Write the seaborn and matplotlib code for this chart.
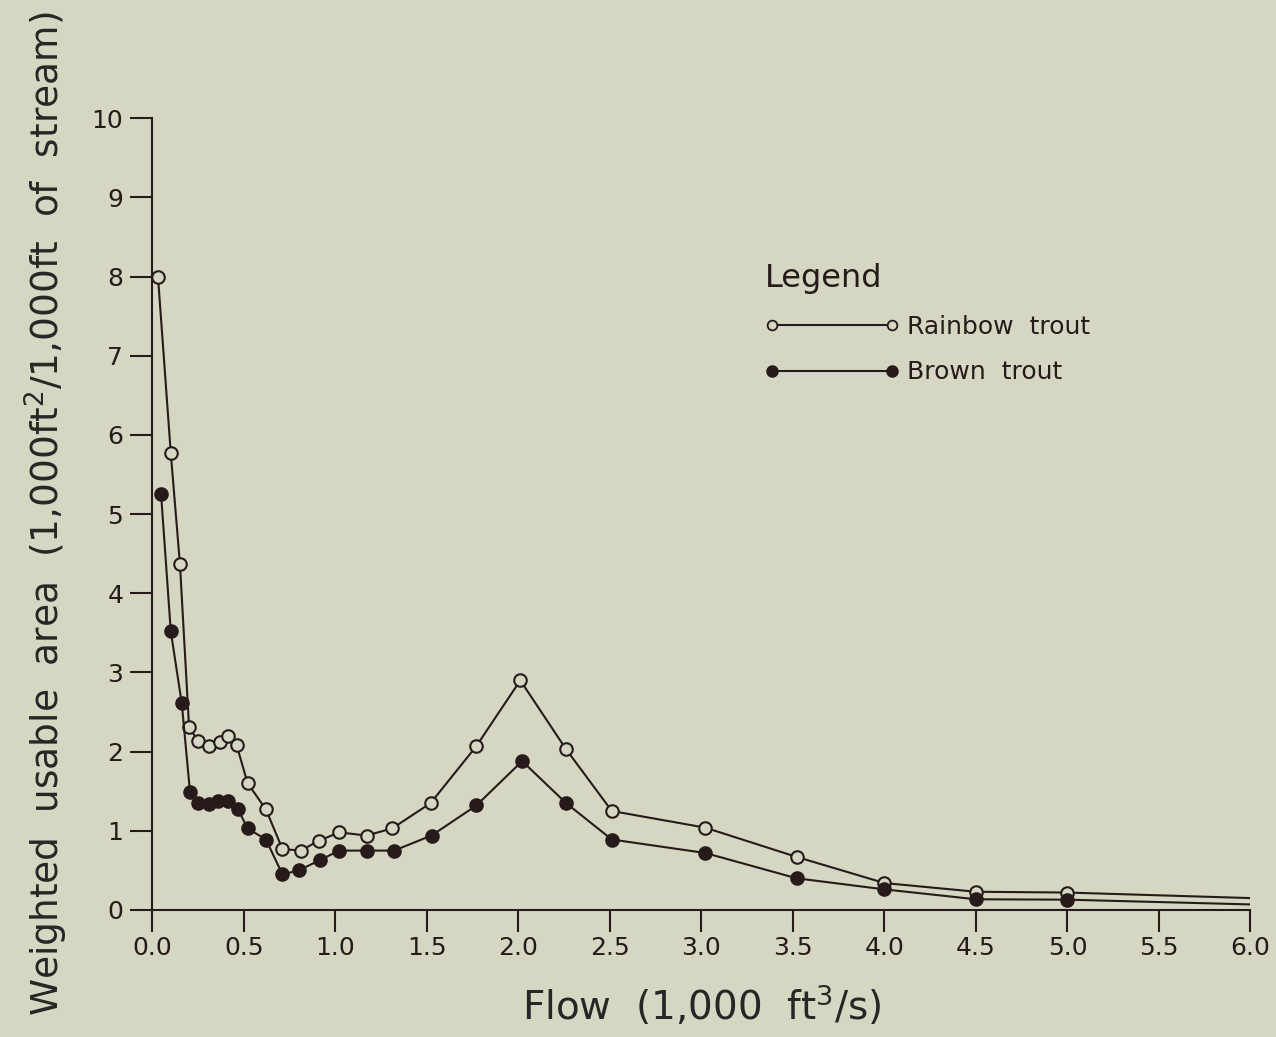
import pandas as pd
import matplotlib
matplotlib.use("Agg")
import matplotlib.pyplot as plt
from matplotlib.lines import Line2D
import seaborn as sns

## values (flow in 1,000 ft3/s, WUA)
rainbow_flow = [0.03, 0.1, 0.15, 0.2, 0.25, 0.31, 0.37, 0.41, 0.46, 0.52, 0.62, 0.71, 0.81, 0.91,
                1.02, 1.17, 1.31, 1.52, 1.77, 2.01, 2.26, 2.51, 3.02, 3.52, 4.0, 4.5, 5.0, 6.0]
rainbow_wua = [8.0, 5.77, 4.37, 2.31, 2.13, 2.07, 2.12, 2.2, 2.08, 1.6, 1.27, 0.77, 0.75, 0.875,
               0.98, 0.94, 1.03, 1.35, 2.07, 2.9, 2.03, 1.25, 1.04, 0.67, 0.34, 0.23, 0.22, 0.15]

brown_flow = [0.047, 0.1, 0.16, 0.205, 0.25, 0.31, 0.36, 0.415, 0.465, 0.52, 0.62, 0.71, 0.8, 0.915,
              1.02, 1.17, 1.32, 1.525, 1.77, 2.02, 2.26, 2.51, 3.02, 3.52, 4.0, 4.5, 5.0, 6.0]
brown_wua = [5.25, 3.52, 2.61, 1.49, 1.35, 1.34, 1.38, 1.37, 1.28, 1.03, 0.89, 0.45, 0.5, 0.63,
             0.75, 0.75, 0.75, 0.94, 1.32, 1.88, 1.35, 0.89, 0.72, 0.40, 0.26, 0.135, 0.13, 0.07]

x_ticks = [0.0, 0.5, 1.0, 1.5, 2.0, 2.5, 3.0, 3.5, 4.0, 4.5, 5.0, 5.5, 6.0]
y_ticks = list(range(0, 11))

bg = "#d5d7c3"
ink = "#261a1a"

df_rb = pd.DataFrame({"flow": rainbow_flow, "wua": rainbow_wua})
df_br = pd.DataFrame({"flow": brown_flow, "wua": brown_wua})

sns.set_theme(style="ticks")
plt.rcParams['font.family'] = ['DejaVu Sans']
plt.rcParams['axes.edgecolor'] = ink
plt.rcParams['text.color'] = ink
plt.rcParams['xtick.color'] = ink
plt.rcParams['ytick.color'] = ink

fig = plt.figure(figsize=(12.76, 10.37), dpi=100, facecolor=bg)
ax = fig.add_axes([0.1195, 0.1225, 0.8605, 0.7635])
ax.set_facecolor(bg)

# last point (6.0) is only the line end, no marker
sns.lineplot(data=df_rb, x="flow", y="wua", ax=ax, color=ink, linewidth=1.5,
             marker="o", markersize=9, markerfacecolor=bg, markeredgecolor=ink,
             markeredgewidth=1.5, markevery=list(range(len(rainbow_flow) - 1)), legend=False)
sns.lineplot(data=df_br, x="flow", y="wua", ax=ax, color=ink, linewidth=1.5,
             marker="o", markersize=9, markerfacecolor=ink, markeredgecolor=ink,
             markeredgewidth=1.5, markevery=list(range(len(brown_flow) - 1)), legend=False)

ax.set_xlim(0, 6.0)
ax.set_ylim(0, 10)
ax.set_xticks(x_ticks)
ax.set_xticklabels([f"{t:.1f}" for t in x_ticks])
ax.set_yticks(y_ticks)
ax.tick_params(axis="x", length=16, width=1.5, pad=3, labelsize=18)
ax.tick_params(axis="y", length=16, width=1.5, pad=5, labelsize=18)
sns.despine(ax=ax)
for s in ["left", "bottom"]:
    ax.spines[s].set_linewidth(1.5)

ax.set_xlabel("Flow  (1,000  ft$^3$/s)", fontsize=28)
ax.set_ylabel("Weighted  usable  area  (1,000ft$^2$/1,000ft  of  stream)", fontsize=27)
ax.xaxis.set_label_coords(0.5, -0.092)
ax.yaxis.set_label_coords(-0.075, 0.5)

handles = [
    Line2D([0], [0], color=ink, lw=1.5, marker="o", markersize=7, markerfacecolor=bg,
           markeredgecolor=ink, markeredgewidth=1.3),
    Line2D([0], [0], color=ink, lw=1.5, marker="o", markersize=8, markerfacecolor=ink,
           markeredgecolor=ink),
]
leg = ax.legend(handles, ["Rainbow  trout", "Brown  trout"], title="Legend",
                loc="upper left", bbox_to_anchor=(0.546, 0.833), frameon=False,
                fontsize=18, title_fontsize=23, numpoints=2, handlelength=5.4,
                handletextpad=0.3, labelspacing=0.85, borderpad=0, alignment="left")

plt.savefig("out.png", dpi=100, facecolor=bg)
